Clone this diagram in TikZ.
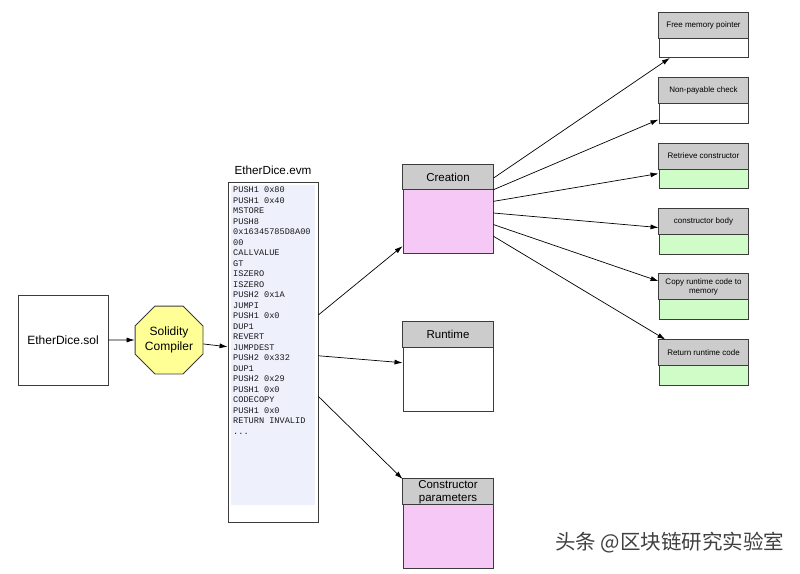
\documentclass[tikz,border=0pt]{standalone}
\usepackage{fontspec}
\setmainfont{Liberation Sans}
\newfontfamily\monof{Liberation Mono}
\newfontfamily\cjk{Noto Sans CJK SC}
\usetikzlibrary{shapes.geometric,arrows.meta,calc}
\definecolor{hdrgray}{RGB}{204,204,204}
\definecolor{pinkc}{RGB}{246,200,246}
\definecolor{greenc}{RGB}{208,252,200}
\definecolor{yellowc}{RGB}{255,255,150}
\definecolor{lavc}{RGB}{238,240,252}
\definecolor{edgec}{RGB}{60,60,60}
\begin{document}
\begin{tikzpicture}[x=1pt,y=-1pt,
  box/.style={draw=edgec,line width=0.9pt,inner sep=0pt,rectangle},
  hdr/.style={draw=edgec,line width=0.9pt,fill=hdrgray},
  conn/.style={draw=black,line width=0.7pt,-{Latex[length=8pt,width=5pt]}},
  lbl/.style={font=\fontsize{11.5}{13}\selectfont,align=center,inner sep=0pt},
  slbl/.style={font=\fontsize{8}{9.5}\selectfont,align=center,inner sep=0pt},
  bigbox/.style={box,minimum width=90pt,minimum height=89pt},
  smallbox/.style={box,minimum width=89pt,minimum height=45pt},
]
\useasboundingbox[fill=white] (0,0) rectangle (800,573);

% source file
\node[box,minimum width=90pt,minimum height=90pt,font=\fontsize{12}{14}\selectfont] (sol) at (63,340) {EtherDice.sol};

% compiler
\node[regular polygon,regular polygon sides=8,minimum size=69.3pt,draw=edgec,line width=0.9pt,
      fill=yellowc,inner sep=0pt,align=center,font=\fontsize{12}{15}\selectfont] (comp) at (169,340) {Solidity\\Compiler};

% EVM bytecode
\node[box,minimum width=90pt,minimum height=340pt] (evm) at (273,352) {};
\fill[lavc] ($(evm.north west)+(3,3)$) rectangle ($(evm.north east)+(-3,323)$);
\node[font=\fontsize{11.7}{13}\selectfont,inner sep=0pt] (evmtitle) at (273,170) {EtherDice.evm};
\node[anchor=north west,inner sep=0pt,align=left,text=black!90,font=\monof\fontsize{8.6}{10.48}\selectfont] (code) at (233,187) {PUSH1 0x80\\PUSH1 0x40\\MSTORE\\PUSH8\\0x16345785D8A00\\00\\CALLVALUE\\GT\\ISZERO\\ISZERO\\PUSH2 0x1A\\JUMPI\\PUSH1 0x0\\DUP1\\REVERT\\JUMPDEST\\PUSH2 0x332\\DUP1\\PUSH2 0x29\\PUSH1 0x0\\CODECOPY\\PUSH1 0x0\\RETURN INVALID\\...};

% middle boxes
\node[bigbox,fill=pinkc,minimum height=88pt] (creation) at (448,209) {};
\draw[hdr] (creation.north west) rectangle ($(creation.north east)+(0,25)$);
\node[lbl] (creationlbl) at ($(creation.north)+(0,12.5)$) {Creation};

\node[bigbox,fill=white] (runtime) at (448,366.5) {};
\draw[hdr] (runtime.north west) rectangle ($(runtime.north east)+(0,26)$);
\node[lbl] (runtimelbl) at ($(runtime.north)+(0,13)$) {Runtime};

\node[bigbox,fill=pinkc] (params) at (448,523.5) {};
\draw[hdr] (params.north west) rectangle ($(params.north east)+(0,26)$);
\node[lbl] (paramslbl) at ($(params.north)+(0,13.5)$) {Constructor\\parameters};

% right boxes
\node[smallbox,fill=white] (fmp) at (703.5,35) {};
\draw[hdr] (fmp.north west) rectangle ($(fmp.north east)+(0,26)$);
\node[slbl] (fmplbl) at ($(fmp.north)+(0,13)$) {Free memory pointer};

\node[smallbox,fill=white] (npc) at (703.5,100.5) {};
\draw[hdr] (npc.north west) rectangle ($(npc.north east)+(0,26)$);
\node[slbl] (npclbl) at ($(npc.north)+(0,13)$) {Non-payable check};

\node[smallbox,fill=greenc] (rc) at (703.5,166) {};
\draw[hdr] (rc.north west) rectangle ($(rc.north east)+(0,26)$);
\node[slbl] (rclbl) at ($(rc.north)+(0,13)$) {Retrieve constructor};

\node[smallbox,fill=greenc] (cb) at (703.5,231.5) {};
\draw[hdr] (cb.north west) rectangle ($(cb.north east)+(0,26)$);
\node[slbl] (cblbl) at ($(cb.north)+(0,13)$) {constructor body};

\node[smallbox,fill=greenc] (crc) at (703.5,296.5) {};
\draw[hdr] (crc.north west) rectangle ($(crc.north east)+(0,26)$);
\node[slbl] (crclbl) at ($(crc.north)+(0,13.5)$) {Copy runtime code to\\memory};

\node[smallbox,fill=greenc] (rrc) at (703.5,362.5) {};
\draw[hdr] (rrc.north west) rectangle ($(rrc.north east)+(0,26)$);
\node[slbl] (rrclbl) at ($(rrc.north)+(0,13)$) {Return runtime code};

% connectors
\draw[conn] (sol) -- (comp);
\draw[conn] (comp) -- (evm);
\draw[conn] (evm) -- (creation);
\draw[conn] (evm) -- (runtime);
\draw[conn] (evm) -- (params);
\draw[conn] (creation) -- (fmp);
\draw[conn] (creation) -- (npc);
\draw[conn] (creation) -- (rc);
\draw[conn] (creation) -- (cb);
\draw[conn] (creation) -- (crc);
\draw[conn] (creation) -- (rrc);

% watermark
\node[font=\cjk\fontsize{20.5}{20.5}\selectfont,text=black!75,anchor=west,inner sep=0pt] (wm) at (555,543) {头条 @区块链研究实验室};
\end{tikzpicture}
\end{document}
